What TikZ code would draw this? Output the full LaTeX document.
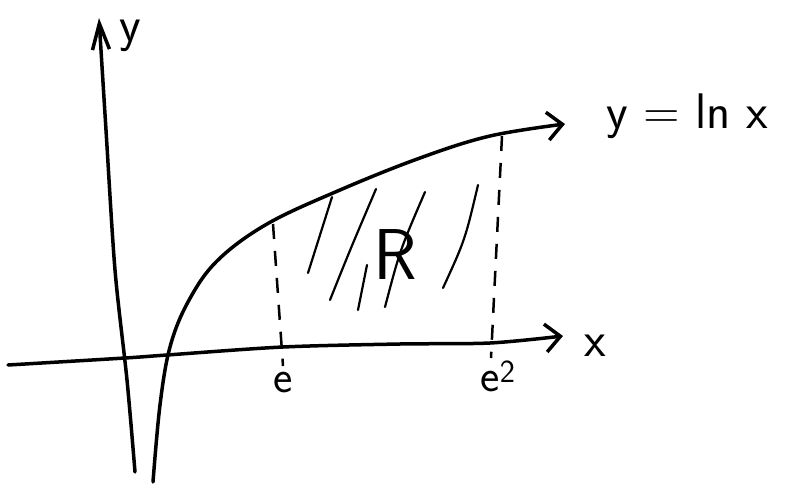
\documentclass[tikz,border=0pt]{standalone}
\usetikzlibrary{arrows.meta}
\begin{document}
\begin{tikzpicture}[x=1pt,y=-1pt,
  stroke/.style={line width=3.5pt,line cap=round,line join=round},
  axisarrow/.style={-{Straight Barb[length=15pt,width=28pt,line width=3.5pt]}},
  yarrow/.style={-{Straight Barb[length=26pt,width=17pt,line width=3.5pt]}},
  guide/.style={line width=2.5pt,dash pattern=on 15pt off 12pt},
  hatch/.style={line width=2.2pt,line cap=round},
  lbl/.style={font=\sffamily\fontsize{50}{58}\selectfont,inner sep=0pt},
  small/.style={font=\sffamily\fontsize{46}{54}\selectfont,inner sep=0pt}]
\useasboundingbox (0,0) rectangle (788,490);
% axes
\coordinate (ybot) at (135,472);
\coordinate (ytop) at (99,18);
\coordinate (xleft) at (8,365);
\coordinate (xright) at (563,336);
\draw[stroke,yarrow] plot[smooth] coordinates {(ybot) (127,380) (115,270) (106,130) (ytop)};
\draw[stroke,axisarrow] plot[smooth] coordinates {(xleft) (125,358) (167,355) (283,347) (400,344) (490,343) (xright)};
% curve
\coordinate (cbot) at (153,482);
\coordinate (cend) at (565,124);
\draw[stroke,axisarrow] plot[smooth,tension=0.6] coordinates {(cbot) (160,405) (170,347) (188,302) (217,261) (267,224) (340,190) (420,158) (490,136) (cend)};
% dashed verticals
\coordinate (e1top) at (273,224);
\coordinate (e1bot) at (283,366);
\coordinate (e2top) at (502,136);
\coordinate (e2bot) at (491,358);
\draw[guide] (e1top) -- (e1bot);
\draw[guide] (e2top) -- (e2bot);
% hatching
\draw[hatch] (332,197) -- (308,273);
\draw[hatch] (376,189) .. controls (350,250) .. (330,300);
\draw[hatch] (367,265) -- (358,310);
\draw[hatch] (425,192) .. controls (400,250) .. (385,307);
\draw[hatch] (478,185) .. controls (465,240) .. (443,288);
% labels
\node[lbl] (ylab) at (130,36) {y};
\node[lbl] (xlab) at (595,346) {x};
\node[small] (elab) at (283,383) {e};
\node[small] (e2lab) at (498,376) {e\textsuperscript{2}};
\node[lbl,anchor=base west] (fn) at (606,128) {y = ln x};
\node[font=\sffamily\fontsize{72}{80}\selectfont,inner sep=0pt] (R) at (395,255) {R};
\end{tikzpicture}
\end{document}
